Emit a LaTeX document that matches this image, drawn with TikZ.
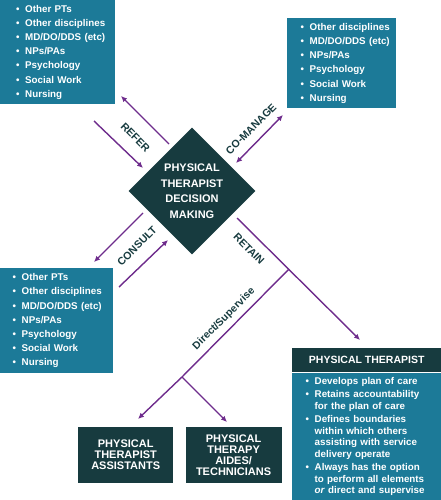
\documentclass[tikz,border=0pt]{standalone}
\usepackage{fontspec}
\setmainfont{Liberation Sans}
\usepackage{tikz}
\usetikzlibrary{arrows.meta,positioning,shapes.geometric}
\definecolor{ptteal}{HTML}{1C7A98}
\definecolor{ptdark}{HTML}{173B3F}
\definecolor{ptpurple}{HTML}{6E2C8C}
\newcommand\bl[1]{\mbox{\makebox[9pt][l]{\textbullet}#1}}
\newcommand\cn[1]{\mbox{\hspace*{9pt}#1}}

\begin{document}
\begin{tikzpicture}[x=1pt,y=-1pt,
  list/.style={fill=ptteal,text=white,font=\bfseries\fontsize{9.8}{11.5}\selectfont,align=left,
    anchor=north west,inner ysep=0pt},
  dark/.style={fill=ptdark,text=white,font=\bfseries\fontsize{11}{11}\selectfont,align=center,inner sep=0pt},
  lbl/.style={text=ptdark,font=\bfseries\fontsize{10.6}{10.6}\selectfont,inner sep=0pt},
  arr/.style={-{Latex[length=6pt,width=5.5pt]},draw=ptpurple,line width=1.4pt},
  seg/.style={draw=ptpurple,line width=1.4pt}]
\useasboundingbox (0,0) rectangle (441,500);
% teal lists
\node[list,text width=83pt,inner xsep=16pt,minimum height=104pt] (refbox) at (0,0)
  {\bl{Other PTs}\\[2.7pt]\bl{Other disciplines}\\[2.7pt]\bl{MD/DO/DDS (etc)}\\[2.7pt]\bl{NPs/PAs}\\[2.7pt]
   \bl{Psychology}\\[2.7pt]\bl{Social Work}\\[2.7pt]\bl{Nursing}};
\node[list,text width=82pt,inner xsep=13.5pt,minimum height=90pt] (comgbox) at (287,18)
  {\bl{Other disciplines}\\[2.7pt]\bl{MD/DO/DDS (etc)}\\[2.7pt]\bl{NPs/PAs}\\[2.7pt]
   \bl{Psychology}\\[2.7pt]\bl{Social Work}\\[2.7pt]\bl{Nursing}};
\node[list,text width=88pt,inner xsep=12.5pt,minimum height=105pt] (consbox) at (0,268)
  {\bl{Other PTs}\\[2.7pt]\bl{Other disciplines}\\[2.7pt]\bl{MD/DO/DDS (etc)}\\[2.7pt]\bl{NPs/PAs}\\[2.7pt]
   \bl{Psychology}\\[2.7pt]\bl{Social Work}\\[2.7pt]\bl{Nursing}};
% physical therapist box
\node[dark,font=\bfseries\fontsize{10.5}{10.5}\selectfont,minimum width=149pt,minimum height=24pt,
  anchor=north west] (pthead) at (292,348) {PHYSICAL THERAPIST};
\node[list,text width=122pt,inner xsep=13.5pt,minimum height=128pt,below=0pt of pthead] (ptbody)
  {\bl{Develops plan of care}\\[2pt]
   \bl{Retains accountability}\\\cn{for the plan of care}\\[2pt]
   \bl{Defines boundaries}\\\cn{within which others}\\\cn{assisting with service}\\\cn{delivery operate}\\[2pt]
   \bl{Always has the option}\\\cn{to perform all elements}\\\cn{\textit{or} direct and supervise}};
% dark nodes
\node[dark,shape=diamond,minimum width=127pt,minimum height=127pt,
  font=\bfseries\fontsize{11}{15.5}\selectfont] (ptdm) at (192,191) {PHYSICAL\\THERAPIST\\DECISION\\MAKING};
\node[dark,minimum width=95pt,minimum height=56pt,anchor=north west] (ptabox) at (78,427)
  {PHYSICAL\\THERAPIST\\ASSISTANTS};
\node[dark,minimum width=96pt,minimum height=56pt,right=12pt of ptabox] (aidebox)
  {PHYSICAL\\THERAPY\\AIDES/\\TECHNICIANS};
% arrow labels
\node[lbl,rotate=-45] (referlbl) at (135.5,137.5) {REFER};
\node[lbl,rotate=45] (comglbl) at (251,129) {CO-MANAGE};
\node[lbl,rotate=45] (conslbl) at (137,246) {CONSULT};
\node[lbl,rotate=-45] (retlbl) at (249,249) {RETAIN};
\node[lbl,rotate=45,font=\bfseries\fontsize{10.5}{10.5}\selectfont] (dslbl) at (224,319) {Direct/Supervise};
% arrow ends
\coordinate (refout) at (169,144); \coordinate (refoutE) at (121,96);
\coordinate (refin) at (94,121); \coordinate (refinE) at (143,168);
\coordinate (comgA) at (236,163); \coordinate (comgB) at (283,115);
\coordinate (consout) at (143,213); \coordinate (consoutE) at (94,262);
\coordinate (consin) at (119,287); \coordinate (consinE) at (168,240);
\coordinate (retS) at (237,218); \coordinate (retE) at (360,340);
\coordinate (dsA) at (289,269); \coordinate (dsB) at (182,377);
\coordinate (ptaE) at (138,419); \coordinate (aideE) at (227,422);
\draw[arr] (refout) -- (refoutE); \draw[arr] (refin) -- (refinE);
\draw[arr,{Latex[length=6pt,width=5.5pt]}-{Latex[length=6pt,width=5.5pt]}] (comgA) -- (comgB);
\draw[arr] (consout) -- (consoutE); \draw[arr] (consin) -- (consinE);
\draw[arr] (retS) -- (retE);
\draw[seg] (dsA) -- (dsB);
\draw[arr] (dsB) -- (ptaE); \draw[arr] (dsB) -- (aideE);
\end{tikzpicture}
\end{document}
